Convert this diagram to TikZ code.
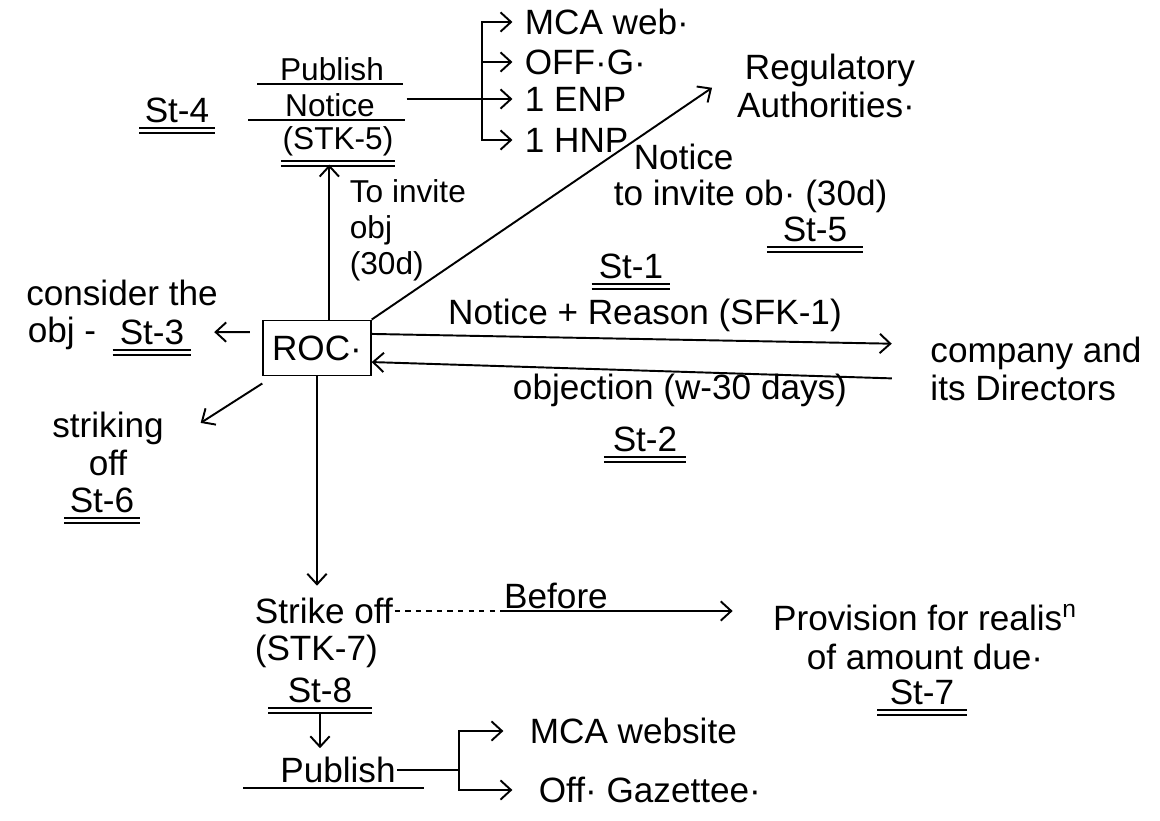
\documentclass[tikz,border=0pt]{standalone}
\usepackage{fontspec}
\setmainfont{Liberation Sans}
\usetikzlibrary{arrows.meta}

\tikzset{
  >={Straight Barb[length=6pt,width=11pt]},
  every node/.style={font=\fontsize{20}{22}\selectfont, inner sep=0.5pt},
  small/.style={font=\fontsize{18}{20.5}\selectfont},
}
\newcommand{\dul}[2][2pt]{%
  \path[draw] ([xshift=-#1,yshift=-2pt]#2.south west) -- ([xshift=#1,yshift=-2pt]#2.south east);
  \path[draw] ([xshift=-#1,yshift=-5pt]#2.south west) -- ([xshift=#1,yshift=-5pt]#2.south east);}

\begin{document}
\begin{tikzpicture}[x=0.2mm,y=-0.2mm,line width=1.1pt]
\useasboundingbox (0,0) rectangle (1160,821);

\node[draw, inner sep=1.5pt, minimum width=21.5mm, minimum height=11mm] (roc) at (317,348) {ROC·};

\node[small] (pub4) at (332,69) {Publish};
\node[small] (not4) at (330,105) {Notice};
\node[small] (stk5) at (338,141) {(STK-5)};
\node (st4) at (177,110) {St-4};
\node[anchor=west] (mca) at (523,22) {MCA web·};
\node[anchor=west] (offg) at (523,62) {OFF·G·};
\node[anchor=west] (enp) at (523,99) {1 ENP};
\node[anchor=west] (hnp) at (523,140) {1 HNP};
\coordinate (br4) at (482,99);

\node[align=right] (reg) at (826,86) {Regulatory\\Authorities·};
\node[small, align=left, anchor=north west] (inv) at (348,178) {To invite\\obj\\(30d)};
\node[anchor=west] (inv5a) at (632,157) {Notice};
\node[anchor=west] (inv5b) at (612,196) {to invite ob· (30d)};
\node (st5) at (815,229) {St-5};
\node (st1) at (631,266) {St-1};

\node (nr) at (645,315) {Notice + Reason (SFK-1)};
\node (objn) at (680,390) {objection (w-30 days)};
\node (st2) at (645,439) {St-2};
\node[align=left] (comp) at (1036,369) {company and\\its Directors};

\node (cons) at (122,293) {consider the};
\node (objc) at (62,333) {obj -};
\node (st3) at (152,332) {St-3};
\node[align=center] (strk) at (108,444) {striking\\off};
\node (st6) at (102,500) {St-6};

\node[anchor=west] (strike) at (253,611) {Strike off};
\node[anchor=west] (stk7) at (253,651) {(STK-7)};
\node (bef) at (556,596) {Before};
\node[align=center] (prov) at (925,637) {Provision for realis\textsuperscript{n}\\of amount due·};
\node (st7) at (922,692) {St-7};
\node (st8) at (320,690) {St-8};
\node (pub8) at (338,770) {Publish};
\coordinate (br8) at (459,770);
\node[anchor=west] (web) at (528,731) {MCA website};
\node[anchor=west] (gaz) at (537,790) {Off· Gazettee·};

\path[draw] ([xshift=-12pt,yshift=-1pt]pub4.south west) -- ([xshift=10pt,yshift=-1pt]pub4.south east);
\path[draw] ([xshift=-20pt,yshift=-1pt]not4.south west) -- ([xshift=16pt,yshift=-1pt]not4.south east);
\dul[0pt]{stk5}
\dul{st4}
\dul[8pt]{st5}
\dul[3pt]{st1}
\dul[4pt]{st2}
\dul[3pt]{st3}
\dul{st6}
\dul[6pt]{st7}
\dul[10pt]{st8}
\path[draw] ([xshift=-20pt,yshift=-2pt]pub8.south west) -- ([xshift=15pt,yshift=-2pt]pub8.south east);

\path[draw,->,shorten >=6pt] ([xshift=17pt]not4.east |- enp.west) -- (enp.west);
\path[draw,->,shorten >=6pt] (br4) |- (mca.west);
\path[draw,->,shorten >=6pt] (br4) |- (offg.west);
\path[draw,->,shorten >=6pt] (br4) |- (hnp.west);

\path[draw,->] ([xshift=7pt]roc.north) -- ([xshift=7pt,yshift=-4pt]roc.north |- stk5.south);
\path[draw,->,shorten >=16pt] (roc.north east) -- ([yshift=8pt]reg.west);
\path[draw,->,shorten >=21pt] ([yshift=8pt]roc.east) -- ([yshift=14pt]comp.west);
\path[draw,->,shorten <=21pt] ([yshift=-6pt]comp.west) -- ([yshift=-8pt]roc.east);
\path[draw,->,shorten <=7pt,shorten >=16pt] ([yshift=9pt]roc.west) -- (st3.east);
\path[draw,->] ([yshift=-4pt]roc.south west) -- ([xshift=20pt,yshift=12pt]strk.east);
\path[draw,->] (roc.south) -- ([yshift=6pt]roc.south |- strike.north);

\path[draw,dashed] (strike.east) -- (strike.east -| bef.west);
\path[draw,->,shorten >=22pt] (strike.east -| bef.west) -- (strike.east -| prov.west);
\path[draw,->] ([yshift=-5pt]st8.south) -- ([yshift=4pt]st8.south |- pub8.north);
\path[draw] (pub8.east) -- (br8);
\path[draw,->,shorten >=14pt] (br8) |- (web.west);
\path[draw,->,shorten >=14pt] (br8) |- (gaz.west);
\end{tikzpicture}
\end{document}
